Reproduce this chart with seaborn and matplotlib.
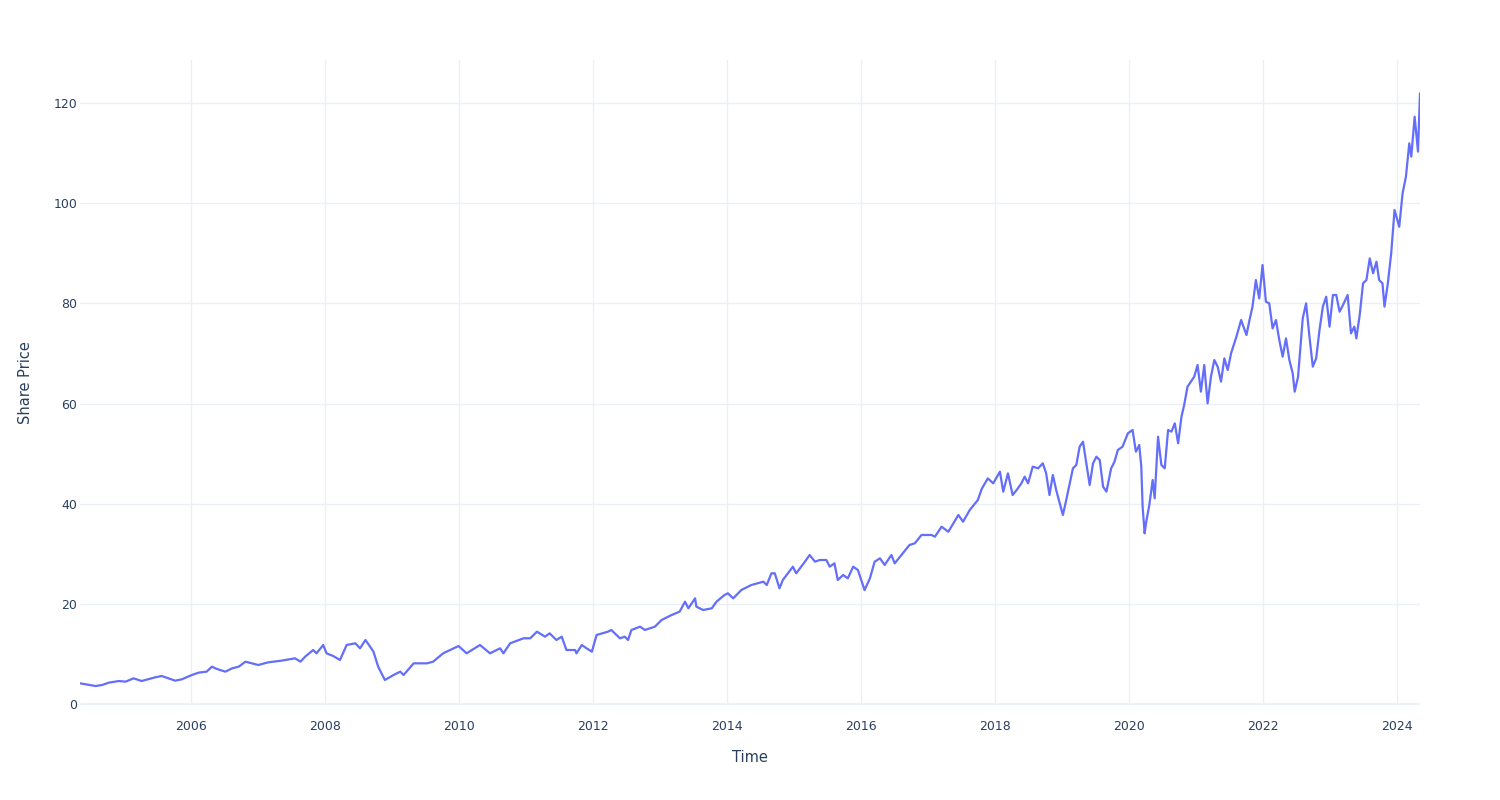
import matplotlib
matplotlib.use("Agg")
import matplotlib.pyplot as plt
import seaborn as sns
import pandas as pd

# Decimal-year time stamps and share prices
years = [
    2004.34, 2004.49, 2004.57, 2004.67, 2004.77, 2004.92, 2005.02, 2005.14, 2005.26, 2005.46,
    2005.56, 2005.66, 2005.76, 2005.86, 2006.01, 2006.11, 2006.23, 2006.31, 2006.36, 2006.43,
    2006.51, 2006.61, 2006.71, 2006.81, 2007.00, 2007.15, 2007.35, 2007.55, 2007.63, 2007.70,
    2007.73, 2007.82, 2007.87, 2007.97, 2008.02, 2008.12, 2008.22, 2008.32, 2008.45, 2008.52,
    2008.60, 2008.67, 2008.72, 2008.79, 2008.84, 2008.89, 2009.02, 2009.12, 2009.17, 2009.32,
    2009.52, 2009.61, 2009.76, 2009.99, 2010.11, 2010.31, 2010.46, 2010.61, 2010.66, 2010.76,
    2010.96, 2011.06, 2011.16, 2011.28, 2011.35, 2011.45, 2011.53, 2011.60, 2011.73, 2011.75,
    2011.83, 2011.90, 2011.98, 2012.05, 2012.22, 2012.27, 2012.40, 2012.47, 2012.52, 2012.57,
    2012.70, 2012.77, 2012.92, 2013.02, 2013.17, 2013.29, 2013.37, 2013.42, 2013.52, 2013.54,
    2013.64, 2013.77, 2013.84, 2013.96, 2014.01, 2014.09, 2014.21, 2014.36, 2014.54, 2014.59,
    2014.66, 2014.71, 2014.78, 2014.83, 2014.98, 2015.03, 2015.16, 2015.23, 2015.31, 2015.38,
    2015.48, 2015.53, 2015.60, 2015.65, 2015.73, 2015.80, 2015.88, 2015.95, 2016.05, 2016.13,
    2016.20, 2016.28, 2016.35, 2016.45, 2016.50, 2016.62, 2016.72, 2016.80, 2016.90, 2017.05,
    2017.10, 2017.20, 2017.30, 2017.45, 2017.52, 2017.62, 2017.74, 2017.80, 2017.89, 2017.97,
    2018.07, 2018.12, 2018.19, 2018.26, 2018.32, 2018.39, 2018.44, 2018.49, 2018.56, 2018.64,
    2018.71, 2018.76, 2018.81, 2018.86, 2018.91, 2019.01, 2019.06, 2019.16, 2019.21, 2019.26,
    2019.31, 2019.36, 2019.41, 2019.46, 2019.51, 2019.56, 2019.61, 2019.66, 2019.73, 2019.78,
    2019.83, 2019.90, 2019.98, 2020.05, 2020.10, 2020.15, 2020.18, 2020.20, 2020.23, 2020.25,
    2020.30, 2020.35, 2020.38, 2020.43, 2020.48, 2020.53, 2020.58, 2020.63, 2020.68, 2020.73,
    2020.78, 2020.82, 2020.87, 2020.97, 2021.02, 2021.07, 2021.12, 2021.17, 2021.22, 2021.27,
    2021.32, 2021.37, 2021.42, 2021.47, 2021.52, 2021.60, 2021.67, 2021.75, 2021.79, 2021.84,
    2021.89, 2021.94, 2021.99, 2022.04, 2022.09, 2022.14, 2022.19, 2022.24, 2022.29, 2022.34,
    2022.39, 2022.44, 2022.47, 2022.52, 2022.59, 2022.64, 2022.69, 2022.74, 2022.79, 2022.84,
    2022.89, 2022.94, 2022.99, 2023.04, 2023.09, 2023.14, 2023.19, 2023.26, 2023.31, 2023.36,
    2023.39, 2023.44, 2023.49, 2023.54, 2023.59, 2023.64, 2023.69, 2023.73, 2023.78, 2023.81,
    2023.86, 2023.91, 2023.96, 2024.03, 2024.08, 2024.13, 2024.18, 2024.21, 2024.26, 2024.31,
    2024.34,
]

prices = [
    4.13, 3.79, 3.59, 3.79, 4.26, 4.59, 4.46, 5.12, 4.59, 5.32,
    5.59, 5.12, 4.66, 4.93, 5.79, 6.26, 6.46, 7.46, 7.12, 6.79,
    6.46, 7.12, 7.46, 8.45, 7.79, 8.32, 8.66, 9.12, 8.45, 9.45,
    9.78, 10.78, 10.12, 11.78, 10.12, 9.58, 8.79, 11.78, 12.12, 11.12,
    12.78, 11.45, 10.45, 7.46, 6.12, 4.79, 5.79, 6.46, 5.79, 8.12,
    8.12, 8.45, 10.12, 11.58, 10.12, 11.78, 10.12, 11.12, 10.12, 12.12,
    13.12, 13.12, 14.44, 13.45, 14.11, 12.78, 13.45, 10.78, 10.78, 10.12,
    11.78, 11.12, 10.45, 13.78, 14.44, 14.78, 13.11, 13.45, 12.78, 14.78,
    15.44, 14.78, 15.44, 16.77, 17.77, 18.44, 20.43, 19.11, 21.10, 19.44,
    18.77, 19.11, 20.43, 21.77, 22.10, 21.10, 22.76, 23.76, 24.43, 23.76,
    26.10, 26.10, 23.10, 24.76, 27.42, 26.10, 28.42, 29.75, 28.42, 28.75,
    28.75, 27.42, 28.09, 24.76, 25.76, 25.10, 27.42, 26.76, 22.76, 25.10,
    28.42, 29.09, 27.76, 29.75, 28.09, 30.09, 31.75, 32.09, 33.75, 33.75,
    33.41, 35.40, 34.40, 37.74, 36.40, 38.74, 40.73, 43.00, 45.06, 44.06,
    46.40, 42.40, 46.06, 41.73, 42.73, 44.06, 45.40, 44.06, 47.40, 47.06,
    48.06, 46.06, 41.73, 45.73, 42.73, 37.74, 40.73, 47.06, 47.72, 51.38,
    52.38, 48.06, 43.73, 48.06, 49.38, 48.72, 43.40, 42.40, 47.06, 48.38,
    50.72, 51.38, 54.05, 54.71, 50.38, 51.72, 47.40, 39.40, 34.08, 36.08,
    39.74, 44.73, 41.07, 53.38, 47.72, 47.06, 54.71, 54.38, 56.05, 52.06,
    57.37, 59.70, 63.36, 65.36, 67.69, 62.37, 67.69, 60.03, 65.36, 68.69,
    67.36, 64.37, 69.02, 66.69, 70.02, 73.35, 76.68, 73.68, 76.35, 79.34,
    84.66, 81.00, 87.66, 80.34, 80.00, 75.01, 76.68, 72.68, 69.36, 73.01,
    68.69, 66.03, 62.37, 65.36, 77.01, 80.00, 73.35, 67.36, 69.02, 74.68,
    79.34, 81.33, 75.35, 81.67, 81.67, 78.34, 79.67, 81.67, 74.01, 75.35,
    73.01, 77.68, 84.00, 84.66, 88.99, 86.00, 88.33, 84.66, 84.00, 79.34,
    84.00, 90.00, 98.64, 95.30, 101.97, 105.30, 111.96, 109.30, 117.28, 110.30,
    121.94,
]

x_ticks = [2006, 2008, 2010, 2012, 2014, 2016, 2018, 2020, 2022, 2024]
y_ticks = [0, 20, 40, 60, 80, 100, 120]

sns.set_theme(style="white")
plt.rcParams["font.family"] = ["DejaVu Sans"]

text_color = "#2a3f5f"
grid_color = "#EBF0F8"

fig = plt.figure(figsize=(15, 8), dpi=100)
ax = fig.add_axes([80 / 1500, 1 - 705 / 800, 1340 / 1500, 645 / 800])

df = pd.DataFrame({"Time": years, "Share Price": prices})
sns.lineplot(data=df, x="Time", y="Share Price", ax=ax,
             color="#636efa", linewidth=1.6, zorder=3)

ax.set_xlim(years[0], years[-1])
ax.set_ylim(-0.2, 128.6)
ax.set_xticks(x_ticks)
ax.set_xticklabels([str(t) for t in x_ticks])
ax.set_yticks(y_ticks)
ax.set_yticklabels([str(t) for t in y_ticks])

ax.grid(True, color=grid_color, linewidth=1, zorder=0)
ax.axhline(0, color=grid_color, linewidth=2, zorder=1)
for s in ax.spines.values():
    s.set_visible(False)

ax.tick_params(axis="x", length=0, labelsize=9, labelcolor=text_color, pad=11)
ax.tick_params(axis="y", length=0, labelsize=9, labelcolor=text_color, pad=2)

ax.set_xlabel("Time", fontsize=10.5, color=text_color, labelpad=12)
ax.set_ylabel("Share Price", fontsize=10.5, color=text_color, labelpad=15)

fig.savefig("out.png", dpi=100, facecolor="white")
